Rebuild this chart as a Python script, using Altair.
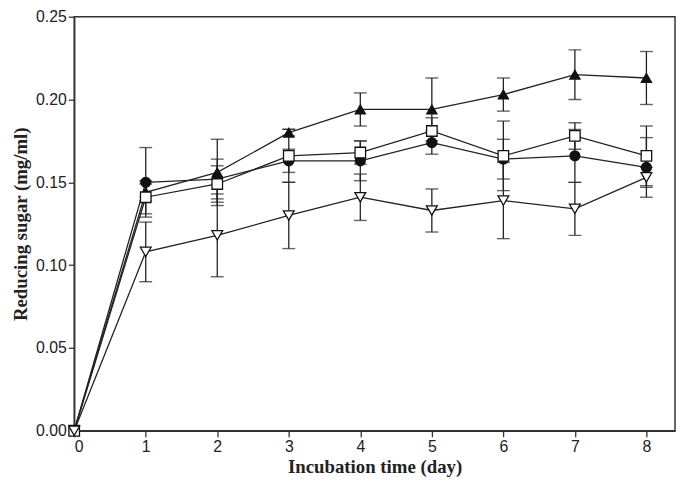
import altair as alt
import pandas as pd

days = [0, 1, 2, 3, 4, 5, 6, 7, 8]
series_names = ["filled circle", "filled triangle", "open square", "open triangle"]

circle_vals = [0.0, 0.150, 0.152, 0.163, 0.163, 0.174, 0.164, 0.166, 0.159]
circle_err = [0.0, 0.021, 0.012, 0.007, 0.012, 0.007, 0.012, 0.016, 0.018]

tri_vals = [0.0, 0.144, 0.156, 0.180, 0.194, 0.194, 0.203, 0.215, 0.213]
tri_err = [0.0, 0.005, 0.020, 0.002, 0.010, 0.019, 0.010, 0.015, 0.016]

square_vals = [0.0, 0.141, 0.149, 0.166, 0.168, 0.181, 0.166, 0.178, 0.166]
square_err = [0.0, 0.010, 0.011, 0.016, 0.007, 0.008, 0.021, 0.008, 0.018]

down_vals = [0.0, 0.108, 0.118, 0.130, 0.141, 0.133, 0.139, 0.134, 0.153]
down_err = [0.0, 0.018, 0.025, 0.020, 0.014, 0.013, 0.023, 0.016, 0.006]

y_ticks = [0.0, 0.05, 0.10, 0.15, 0.20, 0.25]
x_ticks = [0, 1, 2, 3, 4, 5, 6, 7, 8]

rows = []
for name, vals, errs in zip(series_names,
                            [circle_vals, tri_vals, square_vals, down_vals],
                            [circle_err, tri_err, square_err, down_err]):
    for d, v, e in zip(days, vals, errs):
        rows.append({"day": d, "value": v, "err": e, "series": name,
                     "lo": v - e, "hi": v + e})
df = pd.DataFrame(rows)

x_enc = alt.X("day:Q", scale=alt.Scale(domain=[0, 8.4], nice=False, zero=False),
              axis=alt.Axis(values=x_ticks, title="Incubation time (day)", format="d"))
y_scale = alt.Scale(domain=[0, 0.25], nice=False)
y_axis = alt.Axis(values=y_ticks, format=".2f", title="Reducing sugar (mg/ml)")

base = alt.Chart(df)
errdf = base.transform_filter("datum.err > 0")

bars = errdf.mark_rule(color="#222", strokeWidth=1.3).encode(
    x=x_enc, y=alt.Y("lo:Q", scale=y_scale, axis=y_axis), y2="hi:Q")
cap_lo = errdf.mark_tick(color="#222", orient="horizontal", size=13, thickness=1.4).encode(
    x="day:Q", y=alt.Y("lo:Q", scale=y_scale))
cap_hi = errdf.mark_tick(color="#222", orient="horizontal", size=13, thickness=1.4).encode(
    x="day:Q", y=alt.Y("hi:Q", scale=y_scale))

lines = base.mark_line(color="#222", strokeWidth=1.3).encode(
    x="day:Q", y=alt.Y("value:Q", scale=y_scale), detail="series:N")

points = base.mark_point(filled=True, stroke="#111", strokeWidth=1.3, opacity=1).encode(
    x="day:Q", y=alt.Y("value:Q", scale=y_scale),
    shape=alt.Shape("series:N", scale=alt.Scale(domain=series_names,
                    range=["circle", "triangle-up", "square", "triangle-down"]), legend=None),
    fill=alt.Fill("series:N", scale=alt.Scale(domain=series_names,
                  range=["#111", "#111", "white", "white"]), legend=None),
    size=alt.Size("series:N", scale=alt.Scale(domain=series_names,
                  range=[100, 120, 100, 130]), legend=None),
)

chart = alt.layer(bars, cap_lo, cap_hi, lines, points).properties(
    width=608, height=419,
    autosize=alt.AutoSizeParams(type="none"),
    padding={"left": 67, "top": 6, "right": 2, "bottom": 47},
).configure_view(stroke="#333", strokeWidth=1.5).configure_axis(
    grid=False, domainColor="#333", domainWidth=1.5, tickColor="#333", tickWidth=1.3,
    tickSize=6, labelFont="Liberation Sans", labelFontSize=16, labelColor="#222",
    titleFont="Liberation Serif", titleFontSize=19, titleFontWeight="bold", titleColor="#222",
    labelPadding=2,
).configure_axisY(titlePadding=5).configure_axisX(titlePadding=3)

chart.save("out.html", embed_options={"renderer": "svg", "actions": False})
